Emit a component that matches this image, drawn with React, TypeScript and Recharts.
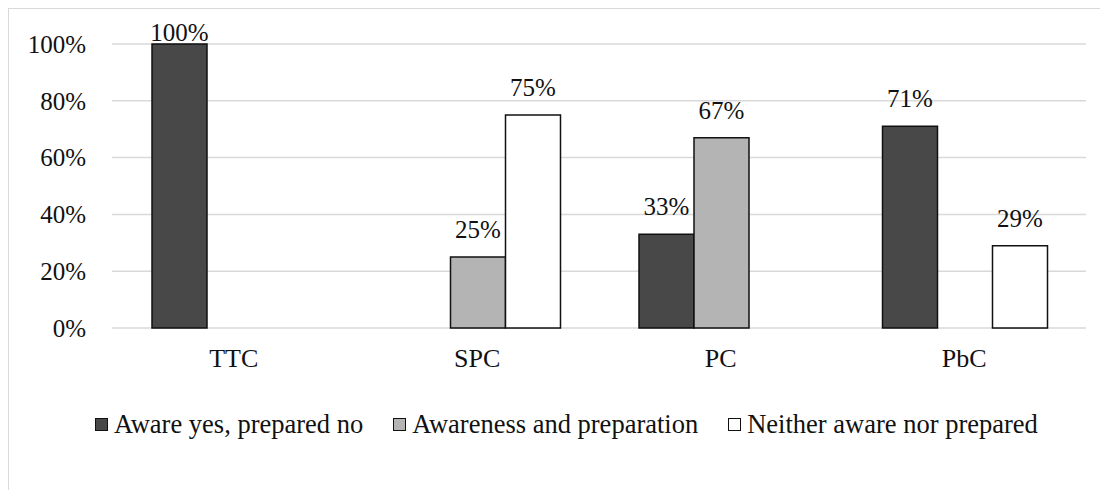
import { Bar, BarChart, CartesianGrid, LabelList, Legend, XAxis, YAxis } from "recharts";

const categories = ["TTC", "SPC", "PC", "PbC"];
const awareNotPrepared = [100, null, 33, 71];
const awareAndPrepared = [null, 25, 67, null];
const neither = [null, 75, null, 29];
const yTicks = [0, 20, 40, 60, 80, 100];

const series = [
  { key: "a", name: "Aware yes, prepared no", fill: "#484848", values: awareNotPrepared },
  { key: "b", name: "Awareness and preparation", fill: "#b4b4b4", values: awareAndPrepared },
  { key: "c", name: "Neither aware nor prepared", fill: "#ffffff", values: neither },
];

const data = categories.map((name, i) => {
  const row: Record<string, string | number | null> = { name };
  series.forEach((s) => (row[s.key] = s.values[i]));
  return row;
});

const FONT = "'Liberation Serif', 'Times New Roman', serif";

const ValueLabel = (props: any) => {
  const { x, y, width, value } = props;
  if (value === null || value === undefined) return null;
  const baseline = Math.max(y - 19, 32);
  return (
    <text x={x + width / 2} y={baseline} textAnchor="middle" fontFamily={FONT} fontSize={25} fill="#111">
      {value}%
    </text>
  );
};

const LegendContent = () => (
  <div style={{ display: "flex", alignItems: "center", height: 30, fontFamily: FONT, fontSize: 26.5, color: "#111" }}>
    {series.map((s) => (
      <div key={s.key} style={{ display: "flex", alignItems: "center", marginRight: 30 }}>
        <span
          style={{
            display: "inline-block",
            width: 11,
            height: 11,
            background: s.fill,
            border: "1.5px solid #111",
            marginRight: 6,
          }}
        />
        <span style={{ whiteSpace: "nowrap" }}>{s.name}</span>
      </div>
    ))}
  </div>
);

export default function App() {
  return (
    <div
      style={{
        width: 1100,
        height: 482,
        borderTop: "1px solid #d9d9d9",
        borderLeft: "1px solid #d9d9d9",
        boxSizing: "border-box",
        background: "#fff",
      }}
    >
      <BarChart
        width={1099}
        height={481}
        data={data}
        margin={{ top: 35, right: 22, left: 0, bottom: 51 }}
        barCategoryGap={40}
        barGap={0}
        style={{ fontFamily: FONT }}
      >
        <CartesianGrid vertical={false} stroke="#d9d9d9" strokeWidth={1.5} />
        <XAxis
          dataKey="name"
          axisLine={false}
          tickLine={false}
          tickSize={0}
          tickMargin={21}
          height={81}
          tick={{ fontFamily: FONT, fontSize: 26, fill: "#111" }}
        />
        <YAxis
          width={103}
          domain={[0, 100]}
          ticks={yTicks}
          axisLine={false}
          tickLine={false}
          tickSize={0}
          tickMargin={26}
          tickFormatter={(v) => `${v}%`}
          tick={{ fontFamily: FONT, fontSize: 25, fill: "#111" }}
        />
        <Legend content={<LegendContent />} wrapperStyle={{ left: 86, width: "auto" }} />
        {series.map((s) => (
          <Bar
            key={s.key}
            dataKey={s.key}
            name={s.name}
            fill={s.fill}
            stroke="#111"
            strokeWidth={1.5}
            isAnimationActive={false}
          >
            <LabelList dataKey={s.key} content={<ValueLabel />} />
          </Bar>
        ))}
      </BarChart>
    </div>
  );
}
